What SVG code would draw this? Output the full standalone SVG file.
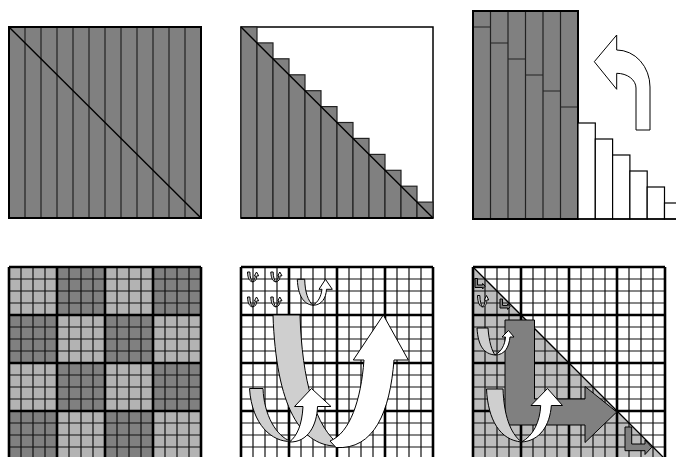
<svg xmlns="http://www.w3.org/2000/svg" xmlns:xlink="http://www.w3.org/1999/xlink" width="676" height="457" viewBox="0 0 676 457">
<style>
.dk{fill:#808080}
.lt{fill:#b3b3b3}
.ln{stroke:#222;stroke-width:1.2;fill:none}
.bd{stroke:#000;stroke-width:2;fill:none}
.thin{stroke:#111;stroke-width:1.2;fill:none}
.thick{stroke:#000;stroke-width:2.6;fill:none}
.ar{stroke:#000;stroke-width:1;stroke-linejoin:round}
.band{fill:#cfcfcf}
.wh{fill:#fff}
.dka{fill:#808080}
</style>
<defs>
<g id="grid">
<path class="thin" d="M0 0V192M12 0V192M24 0V192M36 0V192M48 0V192M60 0V192M72 0V192M84 0V192M96 0V192M108 0V192M120 0V192M132 0V192M144 0V192M156 0V192M168 0V192M180 0V192M192 0V192M0 0H192M0 12H192M0 24H192M0 36H192M0 48H192M0 60H192M0 72H192M0 84H192M0 96H192M0 108H192M0 120H192M0 132H192M0 144H192M0 156H192M0 168H192M0 180H192M0 192H192"/>
<path class="thick" d="M0 0V192M48 0V192M96 0V192M144 0V192M192 0V192M0 0H192M0 48H192M0 96H192M0 144H192M0 192H192"/>
</g>
<g id="uicon">
<path class="band ar" vector-effect="non-scaling-stroke" d="M0,0 L7.4,0 C7.7,12.7 10.7,21.7 15.7,26 C6.7,25 0.7,17 0,0 Z"/>
<path class="wh ar" vector-effect="non-scaling-stroke" d="M15.7,26 C24.7,25.7 28.7,18.7 29.2,10 L35,10 L28.2,0 L21.7,10 L24.7,10 C23.7,17.7 20.7,22.7 15.7,26 Z"/>
</g>
<path id="licon" class="dka ar" vector-effect="non-scaling-stroke" d="M0,0 L6.7,0 L6.7,17 L20,17 L20,13 L26.7,20.3 L20,27.5 L20,23.7 L0,23.7 Z"/>
</defs>

<!-- Panel 1 -->
<g id="panel1">
<rect class="dk" x="9" y="27" width="192" height="191"/>
<path class="ln" d="M25 27V218M41 27V218M57 27V218M73 27V218M89 27V218M105 27V218M121 27V218M137 27V218M153 27V218M169 27V218M185 27V218"/>
<rect class="bd" x="9" y="27" width="192" height="191"/>
<line x1="9" y1="27" x2="201" y2="218" stroke="#000" stroke-width="1.4"/>
</g>

<!-- Panel 2 -->
<g id="panel2">
<rect x="241" y="27" width="192" height="191" fill="#fff" stroke="#000" stroke-width="1.5"/>
<g class="dk" stroke="#222" stroke-width="1.2">
<rect x="241" y="27" width="16" height="191"/>
<rect x="257" y="42.9" width="16" height="175.1"/>
<rect x="273" y="58.8" width="16" height="159.2"/>
<rect x="289" y="74.8" width="16" height="143.2"/>
<rect x="305" y="90.7" width="16" height="127.3"/>
<rect x="321" y="106.6" width="16" height="111.4"/>
<rect x="337" y="122.5" width="16" height="95.5"/>
<rect x="353" y="138.4" width="16" height="79.6"/>
<rect x="369" y="154.4" width="16" height="63.6"/>
<rect x="385" y="170.3" width="16" height="47.7"/>
<rect x="401" y="186.2" width="16" height="31.8"/>
<rect x="417" y="202.1" width="16" height="15.9"/>
</g>
<line x1="241" y1="218" x2="433" y2="218" stroke="#000" stroke-width="2"/>
<line x1="241" y1="27" x2="433" y2="218" stroke="#000" stroke-width="1.4"/>
</g>

<!-- Panel 3 -->
<g id="panel3">
<rect class="dk" x="473" y="11" width="105" height="208"/>
<path class="ln" d="M490.5 11V219M508 11V219M525.5 11V219M543 11V219M560.5 11V219M473 27H490.5M490.5 43H508M508 59H525.5M525.5 75H543M543 91H560.5M560.5 107H578"/>
<rect class="bd" x="473" y="11" width="105" height="208"/>
<g fill="#fff" stroke="#000" stroke-width="1.2">
<rect x="578" y="123" width="17.3" height="96"/>
<rect x="595.3" y="139" width="17.3" height="80"/>
<rect x="612.6" y="155" width="17.3" height="64"/>
<rect x="629.9" y="171" width="17.3" height="48"/>
<rect x="647.2" y="187" width="17.3" height="32"/>
<rect x="664.5" y="203" width="17.3" height="16"/>
</g>
<line x1="578" y1="219" x2="676" y2="219" stroke="#000" stroke-width="1.5"/>
<path class="wh ar" stroke-width="1.2" d="M616.7,50 A33.3 37 0 0 1 650,87 L650,130 L636,130 L636,88 A19.3 14.7 0 0 0 616.7,73.3 L616.7,89.3 L594.3,61.7 L616.7,35 Z"/>
</g>

<!-- Panel 4 -->
<g id="panel4">
<rect class="lt" x="9" y="267" width="48" height="48"/>
<rect class="dk" x="57" y="267" width="48" height="48"/>
<rect class="lt" x="105" y="267" width="48" height="48"/>
<rect class="dk" x="153" y="267" width="48" height="48"/>
<rect class="dk" x="9" y="315" width="48" height="48"/>
<rect class="lt" x="57" y="315" width="48" height="48"/>
<rect class="dk" x="105" y="315" width="48" height="48"/>
<rect class="lt" x="153" y="315" width="48" height="48"/>
<rect class="lt" x="9" y="363" width="48" height="48"/>
<rect class="dk" x="57" y="363" width="48" height="48"/>
<rect class="lt" x="105" y="363" width="48" height="48"/>
<rect class="dk" x="153" y="363" width="48" height="48"/>
<rect class="dk" x="9" y="411" width="48" height="48"/>
<rect class="lt" x="57" y="411" width="48" height="48"/>
<rect class="dk" x="105" y="411" width="48" height="48"/>
<rect class="lt" x="153" y="411" width="48" height="48"/>
<use xlink:href="#grid" transform="translate(9,267)"/>
</g>

<!-- Panel 5 -->
<g id="panel5">
<rect x="241" y="267" width="192" height="192" fill="#fff"/>
<use xlink:href="#grid" transform="translate(241,267)"/>
<use xlink:href="#uicon" transform="translate(247.5,272) scale(0.32,0.38)"/>
<use xlink:href="#uicon" transform="translate(270.8,272) scale(0.32,0.38)"/>
<use xlink:href="#uicon" transform="translate(247.5,297) scale(0.32,0.38)"/>
<use xlink:href="#uicon" transform="translate(270.8,297) scale(0.32,0.38)"/>
<use xlink:href="#uicon" transform="translate(297.3,279.3)"/>
<g id="p5-big">
<path class="band ar" d="M273,315 L300,315 C302,380 315,428 341,446 C300,449 276,405 273,315 Z"/>
<path class="wh ar" d="M336,447.5 C374,450 390,412 394,360 L408.3,360 L383.3,315 L353.3,360 L364,360 C361,400 350,433 330,441 Z"/>
</g>
<g id="p5-mid">
<path class="band ar" d="M249.5,388.5 L263,388.5 C264,415 276,436 291,441.5 C272,442 252,425 249.5,388.5 Z"/>
<path class="wh ar" d="M289.5,442 C308,442.5 317,425 317.5,406.5 L331,406.5 L311.5,388.5 L294.5,406.5 L303,406.5 C302,425 297,436 289.5,442 Z"/>
</g>
</g>

<!-- Panel 6 -->
<g id="panel6">
<rect x="473" y="267" width="192" height="192" fill="#fff"/>
<polygon points="473,267 665,459 473,459" fill="#bdbdbd"/>
<use xlink:href="#grid" transform="translate(473,267)"/>
<line x1="473" y1="267" x2="665" y2="459" stroke="#000" stroke-width="1.3"/>
<use xlink:href="#licon" transform="translate(475,278.5) scale(0.38)"/>
<use xlink:href="#uicon" transform="translate(477.5,295.5) scale(0.32,0.44)"/>
<use xlink:href="#licon" transform="translate(500,299) scale(0.38)"/>
<path class="dka ar" d="M505,320 L534.5,320 L534.5,399 L585,399 L585,386.5 L616.7,412 L585,442.5 L585,425 L505,425 Z"/>
<g id="p6-mid">
<path class="band ar" d="M477,328 L488,328 C489,342 492,351 495,355 C484,354 478,346 477,328 Z"/>
<path class="wh ar" d="M495,355 C505,355 509,347 510,337 L514,337 L508.5,330.5 L502,337 L505.5,337 C505,345 501,352 495,355 Z"/>
</g>
<g id="p6-big">
<path class="band ar" d="M486.5,389 L503,389 C504,415 510,433 521.5,442 C500,440 488,420 486.5,389 Z"/>
<path class="wh ar" d="M521.5,442 C540,441 550,425 551.3,405.5 L562.5,405.5 L547.5,388.5 L531,405.5 L540.7,405.5 C540,422 533,436 521.5,442 Z"/>
</g>
<use xlink:href="#licon" transform="translate(625,427)"/>
</g>
</svg>
